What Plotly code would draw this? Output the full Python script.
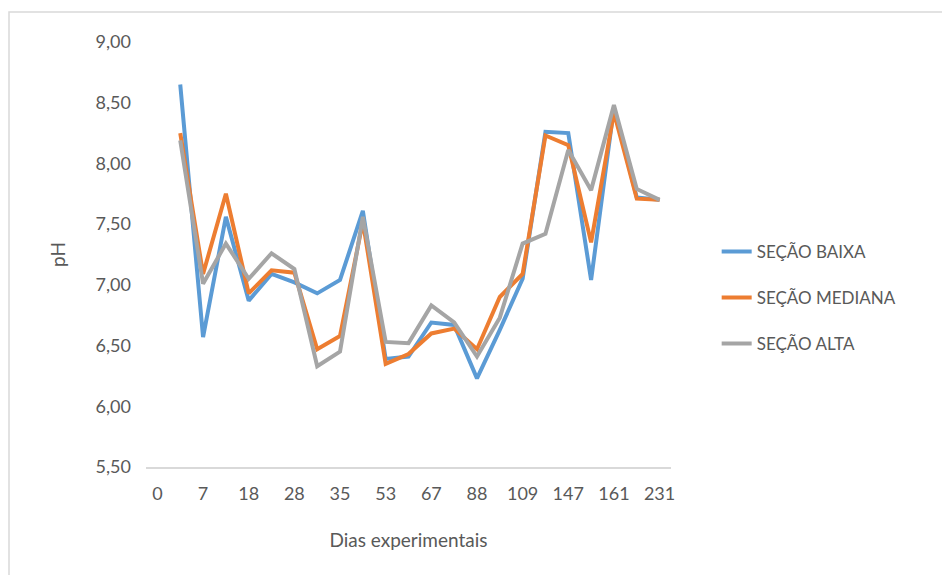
import plotly.graph_objects as go

# Categories (days). Only every other day is labelled on the axis.
dias = ["0", "3", "7", "14", "18", "21", "28", "32", "35", "42", "53", "60",
        "67", "74", "88", "95", "109", "126", "147", "154", "161", "189", "231"]
dias_rotulados = ["0", "7", "18", "28", "35", "53", "67", "88", "109", "147", "161", "231"]

secao_baixa = [None, 8.65, 6.57, 7.56, 6.87, 7.09, 7.02, 6.93, 7.04, 7.61, 6.39, 6.41,
               6.69, 6.67, 6.23, 6.63, 7.05, 8.26, 8.25, 7.04, 8.46, 7.72, 7.70]
secao_mediana = [None, 8.25, 7.09, 7.75, 6.93, 7.12, 7.10, 6.47, 6.58, 7.52, 6.35, 6.43,
                 6.60, 6.64, 6.47, 6.90, 7.09, 8.23, 8.15, 7.35, 8.42, 7.71, 7.70]
secao_alta = [None, 8.19, 7.01, 7.34, 7.05, 7.26, 7.13, 6.33, 6.45, 7.56, 6.53, 6.52,
              6.83, 6.69, 6.41, 6.73, 7.34, 7.42, 8.11, 7.78, 8.48, 7.79, 7.70]

nomes = ["SEÇÃO BAIXA", "SEÇÃO MEDIANA", "SEÇÃO ALTA"]
cores = ["#5B9BD5", "#ED7D31", "#A5A5A5"]
series = [secao_baixa, secao_mediana, secao_alta]

FONT = "Lato, 'Open Sans', sans-serif"
TXT = "#595959"

# page body has an 8px margin, so offsets are compensated here
L, T, PW, PH = 138, 34, 525, 425

fig = go.Figure()
for nome, cor, ys in zip(nomes, cores, series):
    fig.add_trace(go.Scatter(
        x=dias, y=ys, name=nome, mode="lines", legendgroup=nome,
        line=dict(color=cor, width=4), connectgaps=False,
    ))

fig.update_layout(
    width=950, height=575,
    margin=dict(l=L, r=950 - L - PW, t=T, b=575 - T - PH),
    paper_bgcolor="white", plot_bgcolor="white",
    separators=", ",
    font=dict(family=FONT, color=TXT, size=16),
    showlegend=True,
    legend=dict(
        x=1.087, y=0.398, xanchor="left", yanchor="middle",
        font=dict(size=17, color=TXT, family=FONT),
        tracegroupgap=21, bgcolor="rgba(0,0,0,0)",
    ),
    xaxis=dict(
        type="category", categoryorder="array", categoryarray=dias,
        tickmode="array", tickvals=dias_rotulados, ticktext=dias_rotulados,
        showgrid=False, zeroline=False, showline=True,
        linecolor="#D9D9D9", linewidth=1.5, ticks="",
        tickfont=dict(size=18, color=TXT), ticklabelstandoff=10,
        range=[-0.5, len(dias) - 0.5],
        title=dict(text="Dias experimentais", font=dict(size=19, color=TXT), standoff=30),
    ),
    yaxis=dict(
        range=[5.5, 9.0], tickmode="array",
        tickvals=[5.5, 6.0, 6.5, 7.0, 7.5, 8.0, 8.5, 9.0],
        tickformat=".2f", showgrid=False, zeroline=False, showline=False,
        ticks="", tickfont=dict(size=18, color=TXT), ticklabelstandoff=14,
        title=dict(text="pH", font=dict(size=19, color=TXT), standoff=24),
    ),
    shapes=[dict(
        type="rect", xref="paper", yref="paper",
        x0=(1 - L) / PW, x1=(990 - L) / PW,
        y0=(T + PH - 600) / PH, y1=(T + PH - 4) / PH,
        line=dict(color="#D9D9D9", width=1.5), fillcolor="rgba(0,0,0,0)",
        layer="below",
    )],
)

fig.write_html("out.html")
